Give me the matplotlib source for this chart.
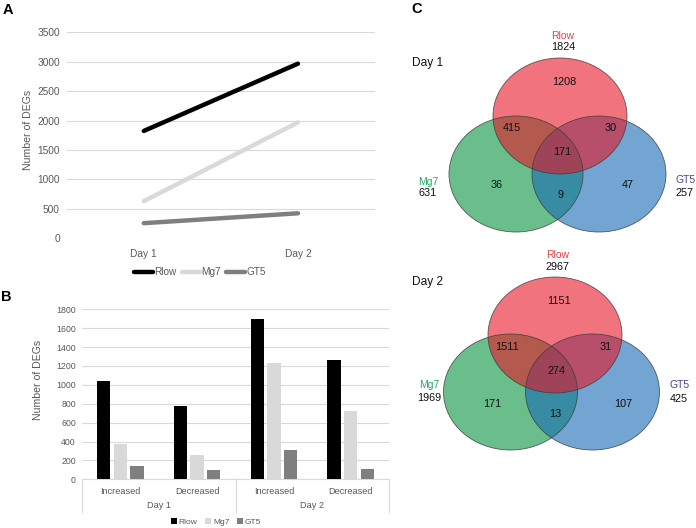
import matplotlib
matplotlib.use('Agg')
import matplotlib.pyplot as plt
from matplotlib.patches import Ellipse, Patch
from matplotlib.lines import Line2D
from matplotlib.transforms import blended_transform_factory
import numpy as np

plt.rcParams['font.family'] = ['Liberation Sans', 'DejaVu Sans']

# ---------------- data ----------------
days = ['Day 1', 'Day 2']
series = ['Rlow', 'Mg7', 'GT5']
rlow_total = [1824, 2967]
mg7_total = [631, 1969]
gt5_total = [257, 425]

directions = ['Increased', 'Decreased']
rlow_bars = [1041, 777, 1698, 1264]
mg7_bars = [371, 258, 1235, 727]
gt5_bars = [145, 102, 314, 109]

venn_regions = ['R', 'RM', 'RG', 'RMG', 'M', 'MG', 'G']
venn_day1 = [1208, 415, 30, 171, 36, 9, 47]
venn_day2 = [1151, 1511, 31, 274, 171, 13, 107]

# ---------------- layout helpers ----------------
W, H = 696, 528
fig = plt.figure(figsize=(W / 100, H / 100), dpi=100)


def rect(l, t, r, b):
    return [l / W, 1 - b / H, (r - l) / W, (b - t) / H]


def fx(x):
    return x / W


def fy(y):
    return 1 - y / H


GRID = '#d9d9d9'
TXT = '#595959'
colors = ['#000000', '#d9d9d9', '#7f7f7f']

# ---------------- Panel A ----------------
axA = fig.add_axes(rect(66.7, 32.3, 375, 238.3))
xA = np.arange(len(days))
for vals, c, name in zip([rlow_total, mg7_total, gt5_total], colors, series):
    axA.plot(xA, vals, color=c, lw=3.2, solid_capstyle='round', label=name, zorder=3)
axA.set_xlim(-0.5, 1.5)
axA.set_ylim(0, 3500)
axA.set_yticks(range(0, 3501, 500))
axA.set_xticks(xA)
axA.set_xticklabels(days)
axA.grid(axis='y', color=GRID, lw=0.8)
axA.set_axisbelow(True)
for s in axA.spines.values():
    s.set_visible(False)
axA.tick_params(length=0, colors=TXT, labelsize=7.3)
axA.tick_params(axis='y', pad=5)
axA.tick_params(axis='x', pad=8)
fig.text(fx(28), fy(130), 'Number of DEGs', rotation=90, ha='center', va='center',
         fontsize=7.6, color=TXT)
handlesA = [Line2D([], [], color=c, lw=3.2, solid_capstyle='round') for c in colors]
fig.legend(handlesA, series, loc='center', bbox_to_anchor=(fx(200), fy(272)), ncol=3,
           frameon=False, fontsize=7.2, handlelength=1.9, handletextpad=0.1,
           columnspacing=0.5, labelcolor=TXT, borderaxespad=0, borderpad=0)

# ---------------- Panel B ----------------
axB = fig.add_axes(rect(82, 309.3, 389, 479.3))
xB = np.arange(len(rlow_bars))
bw = 0.173
off = 0.217
for i, (vals, c) in enumerate(zip([rlow_bars, mg7_bars, gt5_bars], colors)):
    axB.bar(xB + (i - 1) * off, vals, width=bw, color=c, zorder=3)
axB.set_xlim(-0.5, 3.5)
axB.set_ylim(0, 1800)
axB.set_yticks(range(0, 1801, 200))
axB.grid(axis='y', color=GRID, lw=0.8)
axB.set_axisbelow(True)
for k, s in axB.spines.items():
    s.set_visible(k == 'bottom')
axB.spines['bottom'].set_color(GRID)
axB.spines['bottom'].set_linewidth(0.8)
axB.set_xticks(xB)
axB.set_xticklabels(directions * len(days))
axB.tick_params(length=0, colors=TXT)
axB.tick_params(axis='y', labelsize=6.3, pad=4.5)
axB.tick_params(axis='x', labelsize=6.6, pad=5.5)
trB = blended_transform_factory(axB.transData, fig.transFigure)
for xv in [-0.5, 1.5, 3.5]:
    axB.plot([xv, xv], [fy(479.3), fy(511.7)], color=GRID, lw=0.8, transform=trB,
             clip_on=False)
for j, d in enumerate(days):
    axB.text(0.5 + 2 * j, fy(506), d, transform=trB, ha='center', va='center',
             fontsize=6.6, color=TXT)
fig.text(fx(38), fy(380), 'Number of DEGs', rotation=90, ha='center', va='center',
         fontsize=7.6, color=TXT)
handlesB = [Patch(facecolor=c, edgecolor='none') for c in colors]
fig.legend(handlesB, series, loc='center', bbox_to_anchor=(fx(216), fy(522)), ncol=3,
           frameon=False, fontsize=6, handlelength=0.7, handleheight=0.7,
           handletextpad=0.25, columnspacing=0.9, labelcolor=TXT,
           borderaxespad=0, borderpad=0)

# ---------------- Panel labels ----------------
for lab, (px, py) in zip('ABC', [(7.5, 10), (6, 297), (417, 9)]):
    fig.text(fx(px), fy(py), lab, fontsize=10.5, fontweight='bold', ha='center', va='center')

# ---------------- Panel C (Venn) ----------------
axC = fig.add_axes([0, 0, 1, 1])
axC.set_xlim(0, W)
axC.set_ylim(H, 0)
axC.axis('off')
axC.patch.set_visible(False)

venn_fill = {'R': '#e61626', 'M': '#05933f', 'G': '#1669b4'}
name_col = {'R': '#e0404c', 'M': '#22a865', 'G': '#46468f'}
ew, eh = 134, 116
region_off = {'R': (4, -34), 'RM': (-48, 12), 'RG': (51, 12), 'RMG': (2, 36),
              'M': (-63, 69), 'MG': (0, 79), 'G': (68, 69)}

venn_layouts = [
    dict(counts=venn_day1, totals=(rlow_total[0], mg7_total[0], gt5_total[0]),
         R=(560, 116), M=(516, 174), G=(599, 174), day=(412, 63.3),
         Rlab=(563, 36.3, 47.2), Mlab=(428, 181.7, 192.5), Glab=(675, 180.3, 192.5)),
    dict(counts=venn_day2, totals=(rlow_total[1], mg7_total[1], gt5_total[1]),
         R=(555, 335), M=(510.5, 392), G=(592.5, 392), day=(411.7, 281.7),
         Rlab=(558, 255.5, 267), Mlab=(429, 385.5, 397.6), Glab=(670, 385.3, 398.7)),
]

for lay, d in zip(venn_layouts, days):
    for key in ['M', 'G', 'R']:
        axC.add_patch(Ellipse(lay[key], ew, eh, facecolor=venn_fill[key], alpha=0.6,
                              edgecolor='none', zorder=2))
    for key in ['M', 'G', 'R']:
        axC.add_patch(Ellipse(lay[key], ew, eh, facecolor='none', edgecolor='#3a3a3a',
                              lw=0.6, alpha=0.8, zorder=3))
    rx, ry = lay['R']
    for reg, n in zip(venn_regions, lay['counts']):
        ox, oy = region_off[reg]
        axC.text(rx + ox, ry + oy, str(n), ha='center', va='center', fontsize=7.8,
                 color='#111111', zorder=4)
    axC.text(lay['day'][0], lay['day'][1], d, ha='left', va='center', fontsize=8.6,
             color='#111111')
    tR, tM, tG = lay['totals']
    x, y1, y2 = lay['Rlab']
    axC.text(x, y1, 'Rlow', ha='center', va='center', fontsize=7.5, color=name_col['R'])
    axC.text(x, y2, str(tR), ha='center', va='center', fontsize=7.8, color='#111111')
    x, y1, y2 = lay['Mlab']
    axC.text(x, y1, 'Mg7', ha='center', va='center', fontsize=7.5, color=name_col['M'])
    axC.text(x, y2, str(tM), ha='center', va='center', fontsize=7.8, color='#111111')
    x, y1, y2 = lay['Glab']
    axC.text(x, y1, 'GT5', ha='left', va='center', fontsize=7.5, color=name_col['G'])
    axC.text(x, y2, str(tG), ha='left', va='center', fontsize=7.8, color='#111111')

fig.savefig('out.png', dpi=100)
